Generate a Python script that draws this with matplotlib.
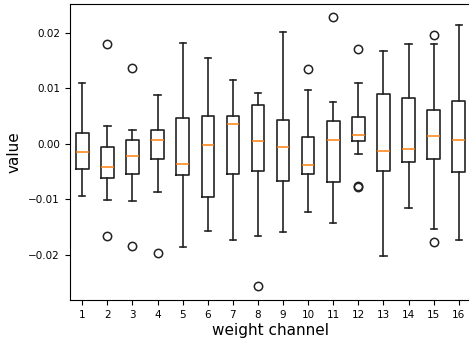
import matplotlib
matplotlib.use('Agg')
import matplotlib.pyplot as plt

channels = list(range(1, 17))
whisker_hi = [0.0109, 0.0031, 0.0025, 0.0087, 0.0181, 0.0154, 0.0115, 0.0091,
              0.0201, 0.0096, 0.0075, 0.0109, 0.0166, 0.0180, 0.0179, 0.0214]
q3 = [0.0019, -0.0006, 0.0007, 0.0025, 0.0046, 0.0050, 0.0050, 0.0069,
      0.0042, 0.0011, 0.0040, 0.0047, 0.0090, 0.0083, 0.0061, 0.0076]
medians = [-0.0015, -0.0043, -0.0022, 0.0007, -0.0036, -0.0002, 0.0035, 0.0004,
           -0.0006, -0.0038, 0.0006, 0.0016, -0.0014, -0.0010, 0.0013, 0.0007]
q1 = [-0.0046, -0.0062, -0.0054, -0.0028, -0.0057, -0.0097, -0.0054, -0.0050,
      -0.0068, -0.0055, -0.0070, 0.0004, -0.0050, -0.0034, -0.0028, -0.0052]
whisker_lo = [-0.0095, -0.0102, -0.0104, -0.0087, -0.0187, -0.0157, -0.0174, -0.0166,
              -0.0160, -0.0124, -0.0143, -0.0018, -0.0202, -0.0117, -0.0154, -0.0174]
outliers = [[], [0.0180, -0.0166], [0.0137, -0.0185], [-0.0197], [], [], [], [-0.0257],
            [], [0.0135], [0.0228], [0.0170, -0.0076, -0.0079], [], [], [0.0195, -0.0178], []]

stats = []
for i in range(len(channels)):
    stats.append(dict(med=medians[i], q1=q1[i], q3=q3[i],
                      whislo=whisker_lo[i], whishi=whisker_hi[i],
                      fliers=outliers[i], label=str(channels[i])))

fig = plt.figure(figsize=(4.69, 3.43), dpi=100)
ax = fig.add_axes([69.75 / 469, 43 / 343, (471.3 - 69.75) / 469, (300 - 4.3) / 343])
lw = 1.2
ax.bxp(stats, positions=channels,
       boxprops=dict(linewidth=lw, color='#222222'),
       whiskerprops=dict(linewidth=lw, color='#222222'),
       capprops=dict(linewidth=lw, color='#222222'),
       medianprops=dict(linewidth=1.1, color='#ff7f0e'),
       flierprops=dict(marker='o', markersize=6, markerfacecolor='none',
                       markeredgecolor='#222222', markeredgewidth=1.1))
ax.set_xlim(0.5, 16.5)
ax.set_ylim(-0.0282, 0.0251)
ax.set_yticks([-0.02, -0.01, 0.0, 0.01, 0.02])
ax.tick_params(labelsize=7.5)
ax.set_xlabel('weight channel', fontsize=11, labelpad=2)
ax.set_ylabel('value', fontsize=11, labelpad=5)
ax.spines['right'].set_visible(False)

fig.savefig('out.png', dpi=100)
